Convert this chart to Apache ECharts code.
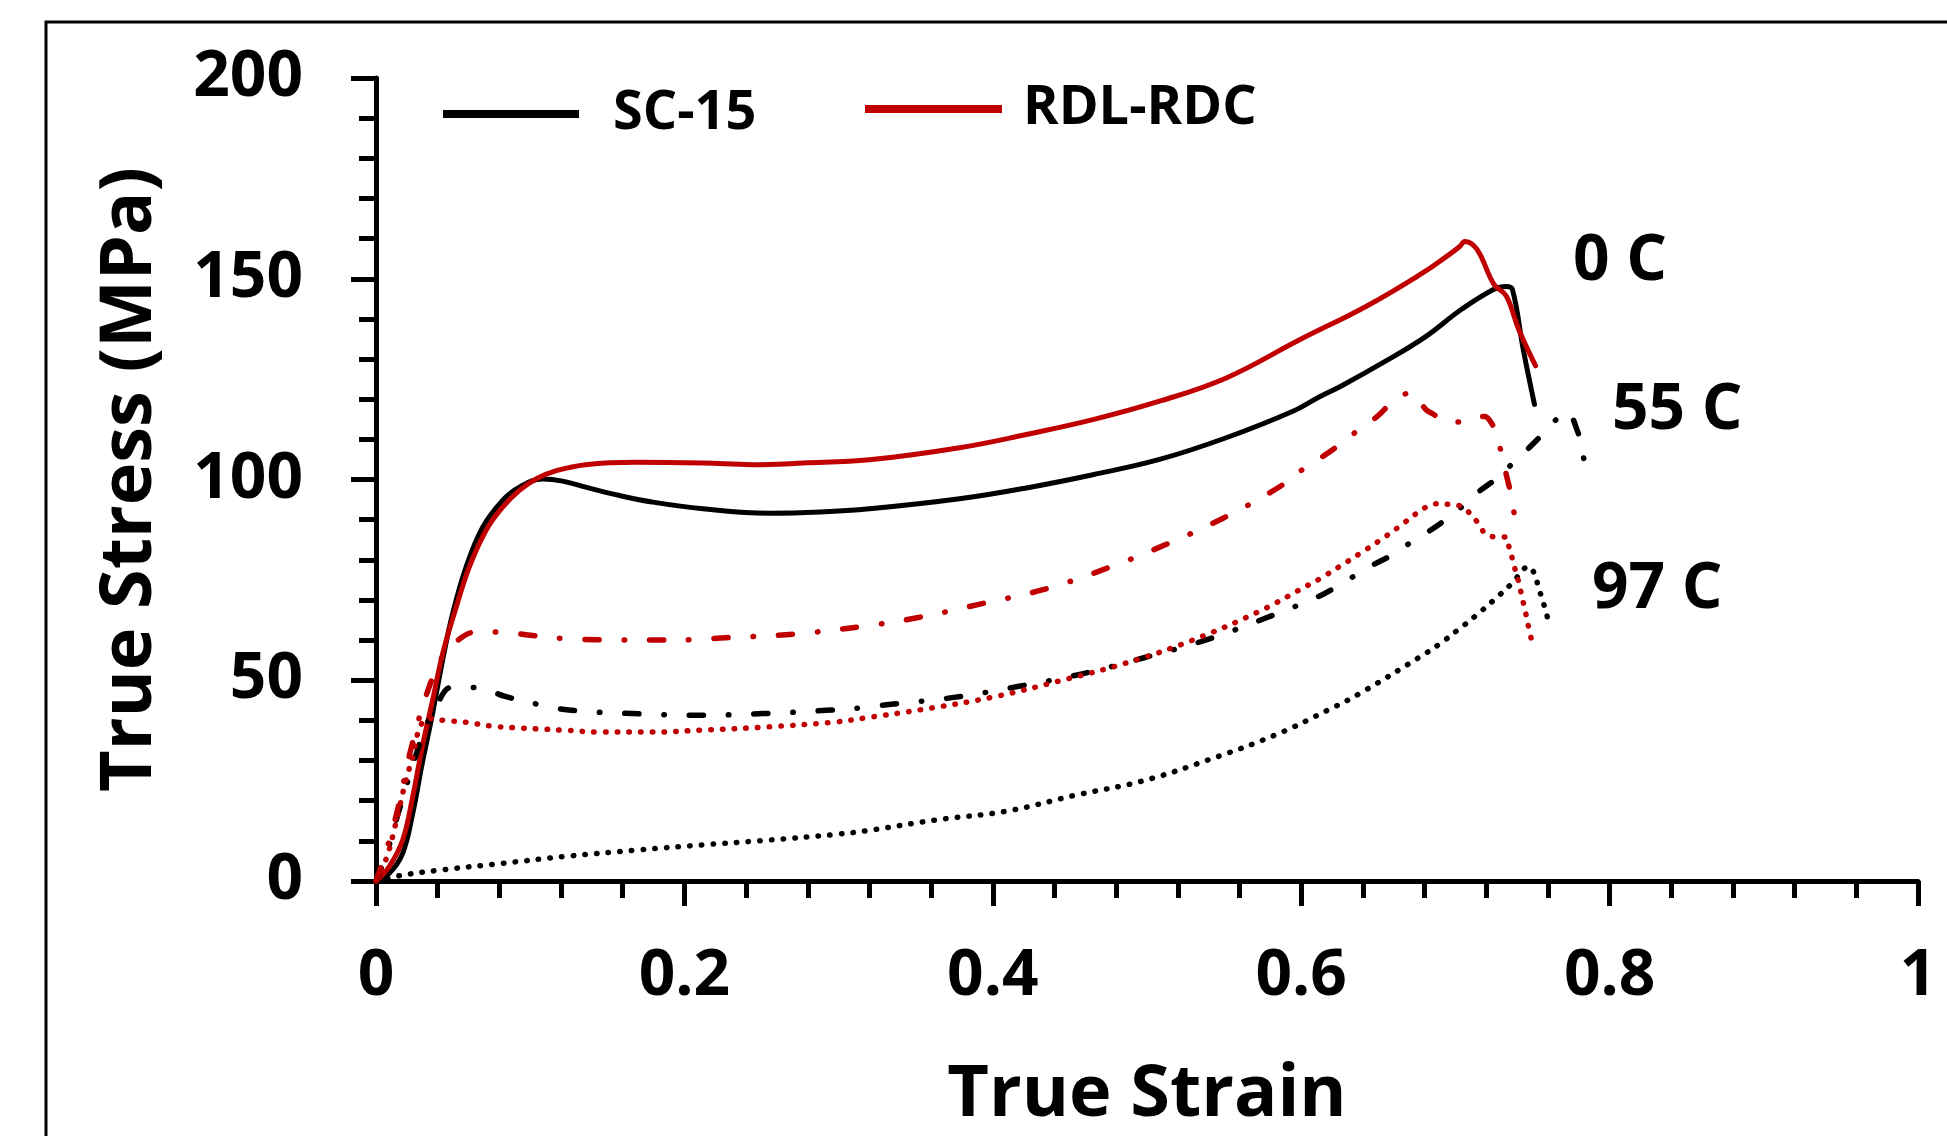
<!DOCTYPE html>
<html lang="en">

<head>
  <meta charset="UTF-8">
  <title>True Stress vs True Strain</title>
  <script src="https://cdn.jsdelivr.net/npm/echarts@6/dist/echarts.min.js"></script>
  <style>
    body { margin: 0; background: #fff; }
    #main { width: 1947px; height: 1136px; }
  </style>
</head>

<body>
  <div id="main"></div>
</body>
<script>
  // [true strain, true stress (MPa)]
  let sc15_0C = [[0,0],[0.0086,1.9],[0.0173,6.9],[0.0238,16.8],[0.030,29.3],[0.0367,41.7],[0.0432,55],[0.0497,66.6],[0.0584,78.2],[0.0692,88.1],[0.0821,94.8],[0.093,98.1],[0.108,100.1],[0.121,99.6],[0.136,98.1],[0.158,96],[0.179,94.4],[0.212,92.7],[0.255,91.6],[0.288,91.9],[0.32,92.7],[0.3784,95.2],[0.4217,97.9],[0.4649,101.2],[0.5081,105],[0.5514,110.4],[0.5946,117],[0.6119,120.6],[0.626,123.3],[0.653,129.1],[0.680,135.4],[0.704,142.4],[0.725,147.4],[0.733,148.1],[0.737,147.3],[0.744,132.4],[0.7513,118.7]]
  let rdl_0C = [[0,0],[0.0086,3.6],[0.0173,10.2],[0.0238,21],[0.030,33.4],[0.0367,45],[0.0432,56.6],[0.052,68.2],[0.0605,78.2],[0.0713,87.3],[0.0821,93.1],[0.093,97.3],[0.104,100.2],[0.117,102.2],[0.136,103.7],[0.169,104.3],[0.212,104.1],[0.244,103.7],[0.277,104.1],[0.32,104.9],[0.3784,107.9],[0.4217,111.2],[0.4649,114.9],[0.5081,119.5],[0.5514,125.3],[0.599,134.8],[0.642,143.1],[0.679,151.5],[0.693,155.2],[0.703,158.1],[0.706,159.3],[0.714,157.3],[0.725,148.6],[0.733,145.7],[0.741,137.4],[0.752,128.3]]
  let sc15_55C = [[0,0],[0.007,7],[0.0146,17.1],[0.0271,32.8],[0.034,40],[0.040,44.4],[0.0488,48.2],[0.0645,48.2],[0.0844,45.9],[0.105,44],[0.125,42.6],[0.166,41.7],[0.21,41.3],[0.251,41.7],[0.292,42.5],[0.3136,43.1],[0.334,44],[0.376,45.8],[0.417,48.5],[0.458,51.6],[0.498,55.6],[0.538,60],[0.577,65.5],[0.612,71],[0.6216,73],[0.6346,76],[0.6475,78.9],[0.6584,81.1],[0.671,84.3],[0.6828,87.1],[0.6936,90],[0.7048,93.4],[0.7156,97.1],[0.7265,100.2],[0.7368,103.9],[0.747,107.6],[0.7563,111.2],[0.7664,115.3],[0.772,116.8],[0.7794,111.8],[0.7826,106.2],[0.787,100.2]]
  let rdl_55C = [[0,0],[0.007,8],[0.0141,17.9],[0.0232,33.7],[0.0351,49],[0.045,57],[0.054,60.2],[0.063,61.9],[0.08,62],[0.1,61.2],[0.121,60.4],[0.143,60.1],[0.184,60],[0.205,60.1],[0.227,60.6],[0.268,61.4],[0.3134,63.3],[0.35,65.5],[0.391,68.9],[0.432,72.5],[0.472,77.6],[0.511,83.6],[0.549,90.3],[0.586,98.2],[0.603,103.1],[0.615,106],[0.626,109],[0.637,112.3],[0.649,115.6],[0.658,118.8],[0.671,121.6],[0.681,117.4],[0.686,116.2],[0.692,114.7],[0.705,114.3],[0.719,115.7],[0.7226,114.5],[0.7254,112.4],[0.7297,106.8],[0.733,101.2],[0.736,96.3],[0.7383,91]]
  let sc15_97C = [[0,0],[0.015,1.3],[0.039,2.6],[0.082,4.4],[0.125,6.2],[0.169,7.7],[0.212,9],[0.255,10.2],[0.298,11.6],[0.318,12.5],[0.363,15.2],[0.409,17.4],[0.454,21.4],[0.497,24.9],[0.540,30.2],[0.584,36.5],[0.618,42.7],[0.638,46.7],[0.6778,56],[0.690,59.1],[0.7022,62.7],[0.7139,66.3],[0.7256,70.2],[0.7366,74.1],[0.7476,78.3],[0.7517,76.1],[0.7537,73.3],[0.756,70.6],[0.7582,67.8],[0.7601,65]]
  let rdl_97C = [[0,0],[0.0066,5.5],[0.0109,11.3],[0.0196,25.4],[0.0239,31],[0.0282,38],[0.034,40.5],[0.044,40],[0.059,39.5],[0.0743,38.6],[0.0894,38.2],[0.1045,37.9],[0.12,37.6],[0.147,37.1],[0.179,37.1],[0.212,37.6],[0.255,38.4],[0.298,39.6],[0.317,40.6],[0.354,42.7],[0.40,45.8],[0.443,49.8],[0.4865,54.3],[0.5296,60],[0.573,67.2],[0.605,73.8],[0.613,75.5],[0.626,78.6],[0.639,81.8],[0.652,85.1],[0.664,88.4],[0.676,91.9],[0.6826,93.4],[0.6897,94],[0.6973,93.7],[0.7044,93.2],[0.710,91.3],[0.715,89],[0.7193,86.6],[0.7265,85.7],[0.7325,85.7],[0.735,82.8],[0.7372,79.9],[0.739,77.2],[0.741,74.5],[0.7427,71.6],[0.7444,68.7],[0.7461,65.8],[0.7476,63],[0.7494,60]]

  let tempLabels = ['0 C', '55 C', '97 C']

  let black = '#000000'
  let red = '#C00000'
  let font = 'Open Sans'
  let dashDot = [14, 25, 0.5, 25]
  let dotted = [0.5, 11.2]

  let myCharts = echarts.init(document.querySelector('#main'))

  function line(name, data, color, type) {
    return {
      name: name,
      type: 'line',
      data: data,
      smooth: 0.4,
      showSymbol: false,
      symbol: 'none',
      lineStyle: { color: color, width: type === 'solid' ? 5 : 5.5, type: type, cap: 'round', join: 'round' },
      itemStyle: { color: color },
      z: 3
    }
  }

  let axisCommon = {
    type: 'value',
    axisLine: { show: true, onZero: false, lineStyle: { color: black, width: 5 } },
    axisTick: { show: true, inside: false, length: 25, lineStyle: { color: black, width: 5 } },
    minorTick: { show: true, splitNumber: 5, length: 17, lineStyle: { color: black, width: 5 } },
    splitLine: { show: false },
    minorSplitLine: { show: false },
    nameLocation: 'middle',
    nameTextStyle: { fontFamily: font, fontWeight: 'bold', fontSize: 72, color: black }
  }

  let option = {
    animation: false,
    backgroundColor: '#fff',
    grid: { left: 376, right: 29, top: 78, bottom: 254, containLabel: false },
    legend: [
      {
        data: ['SC-15'], left: 443, top: 87, padding: 0,
        icon: 'rect', itemWidth: 136, itemHeight: 8,
        textStyle: { fontFamily: font, fontWeight: 'bold', fontSize: 54, color: black, padding: [0, 0, 0, 29] }
      },
      {
        data: ['RDL-RDC'], left: 865, top: 82, padding: 0,
        icon: 'rect', itemWidth: 137, itemHeight: 8,
        textStyle: { fontFamily: font, fontWeight: 'bold', fontSize: 54, color: black, padding: [0, 0, 0, 16] }
      }
    ],
    xAxis: Object.assign({}, axisCommon, {
      min: 0, max: 1, interval: 0.2,
      name: 'True Strain', nameGap: 178,
      axisLabel: { fontFamily: font, fontWeight: 'bold', fontSize: 64, color: black, margin: 64 }
    }),
    yAxis: Object.assign({}, axisCommon, {
      min: 0, max: 200, interval: 50,
      name: 'True Stress (MPa)', nameGap: 210,
      axisLabel: { fontFamily: font, fontWeight: 'bold', fontSize: 64, color: black, margin: 73 }
    }),
    series: [
      line('SC-15', sc15_0C, black, 'solid'),
      line('RDL-RDC', rdl_0C, red, 'solid'),
      line('SC-15 55C', sc15_55C, black, dashDot),
      line('RDL-RDC 55C', rdl_55C, red, dashDot),
      line('SC-15 97C', sc15_97C, black, dotted),
      line('RDL-RDC 97C', rdl_97C, red, dotted)
    ],
    graphic: [
      {
        type: 'rect', z: 0, silent: true,
        shape: { x: 46, y: 22, width: 2000, height: 1300 },
        style: { fill: 'none', stroke: black, lineWidth: 3 }
      },
      {
        type: 'text', left: 1573, top: 230,
        style: { text: tempLabels[0], font: 'bold 64px "Open Sans"', fill: black }
      },
      {
        type: 'text', left: 1612, top: 379,
        style: { text: tempLabels[1], font: 'bold 64px "Open Sans"', fill: black }
      },
      {
        type: 'text', left: 1592, top: 558,
        style: { text: tempLabels[2], font: 'bold 64px "Open Sans"', fill: black }
      }
    ]
  }
  myCharts.setOption(option)
</script>

</html>
